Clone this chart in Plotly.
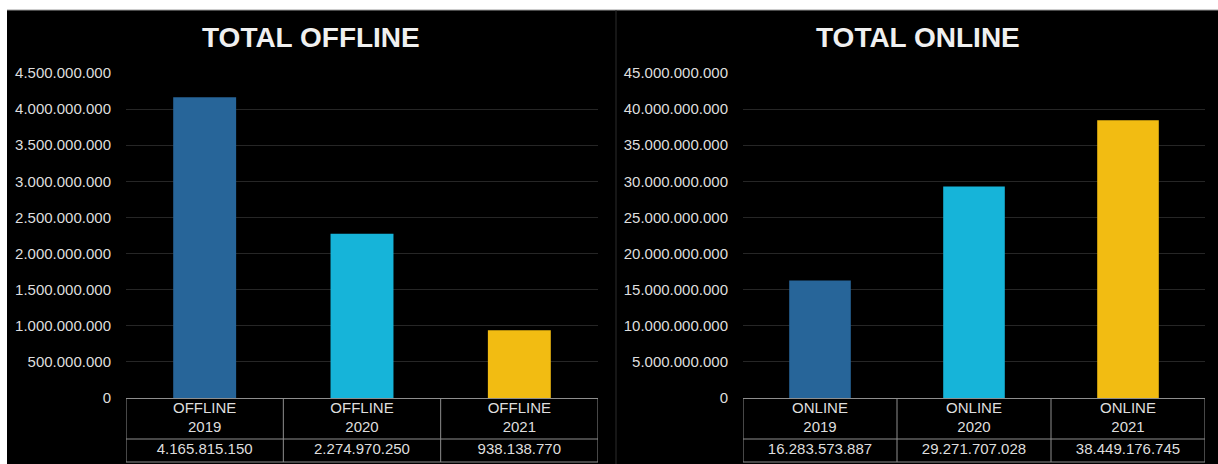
import plotly.graph_objects as go

W, H = 1218, 464

years = ["2019", "2020", "2021"]
offline_label = "OFFLINE"
online_label = "ONLINE"
offline_values = [4165815150, 2274970250, 938138770]
online_values = [16283573887, 29271707028, 38449176745]
offline_value_text = ["4.165.815.150", "2.274.970.250", "938.138.770"]
online_value_text = ["16.283.573.887", "29.271.707.028", "38.449.176.745"]
bar_colors = ["#276599", "#16b4d9", "#f2bc12"]
titles = ["TOTAL OFFLINE", "TOTAL ONLINE"]

FONT = "Liberation Sans, Arial, sans-serif"
TXT = "#dedede"
BORDER = "#8e8e8e"


def px(x):
    return x / W


def py(y):
    return 1 - y / H


left_dom = [px(126), px(598)]
right_dom = [px(743), px(1205)]
y_dom = [py(398), py(73)]
header_row_dom = [py(439), py(398)]
value_row_dom = [py(462), py(439)]

fig = go.Figure()

fig.add_trace(go.Bar(
    x=years, y=offline_values, marker=dict(color=bar_colors, line=dict(width=0)),
    width=0.4, xaxis="x", yaxis="y", hoverinfo="skip", showlegend=False,
))
fig.add_trace(go.Bar(
    x=years, y=online_values, marker=dict(color=bar_colors, line=dict(width=0)),
    width=0.4, xaxis="x2", yaxis="y2", hoverinfo="skip", showlegend=False,
))


def text_row(texts, xa, ya, ypos):
    return go.Scatter(
        x=years, y=[ypos] * len(years), text=texts, mode="text",
        textposition="middle center", textfont=dict(family=FONT, size=15, color=TXT),
        xaxis=xa, yaxis=ya, hoverinfo="skip", showlegend=False, cliponaxis=False,
    )


# table rows: header (label + year) and value
fig.add_trace(text_row([f"{offline_label}<br>{y}" for y in years], "x", "y5", 0.5))
fig.add_trace(text_row([f"{online_label}<br>{y}" for y in years], "x2", "y6", 0.5))
fig.add_trace(text_row(offline_value_text, "x", "y3", 0.5))
fig.add_trace(text_row(online_value_text, "x2", "y4", 0.5))

xaxis_common = dict(
    type="category", range=[-0.5, 2.5], showgrid=False, zeroline=False,
    showline=True, linecolor=BORDER, linewidth=1, automargin=False,
    showticklabels=False, ticks="", fixedrange=True,
)
yaxis_common = dict(
    showgrid=True, gridcolor="#262626", gridwidth=1, zeroline=False, showline=False,
    tickformat=",d", tickfont=dict(family=FONT, size=15, color=TXT), automargin=False,
    ticklabelstandoff=14, fixedrange=True,
)
row_axis = dict(range=[0, 1], visible=False, fixedrange=True,
                showgrid=False, zeroline=False, automargin=False)

shapes = [
    dict(type="rect", xref="paper", yref="paper", x0=px(7), x1=1, y0=0, y1=py(10),
         fillcolor="black", line=dict(width=0), layer="below"),
    dict(type="line", xref="paper", yref="paper", x0=px(7), x1=1, y0=py(10), y1=py(10),
         line=dict(color="#9a9a9a", width=1), layer="below"),
    dict(type="line", xref="paper", yref="paper", x0=px(616), x1=px(616), y0=0, y1=py(10),
         line=dict(color="#2c2c2c", width=1), layer="below"),
]
annotations = [
    dict(text=f"<b>{titles[0]}</b>", xref="paper", yref="paper", x=px(311), y=py(38),
         xanchor="center", yanchor="middle", showarrow=False,
         font=dict(family=FONT, size=28, color="#f0f0f0")),
    dict(text=f"<b>{titles[1]}</b>", xref="paper", yref="paper", x=px(918), y=py(38),
         xanchor="center", yanchor="middle", showarrow=False,
         font=dict(family=FONT, size=28, color="#f0f0f0")),
]

for xref in ("x", "x2"):
    n = len(years)
    for i in range(n + 1):
        shapes.append(dict(type="line", xref=xref, yref="paper",
                           x0=i - 0.5, x1=i - 0.5, y0=py(462), y1=py(398),
                           line=dict(color=BORDER, width=1)))
    for yy in (439, 462):
        shapes.append(dict(type="line", xref=xref, yref="paper",
                           x0=-0.5, x1=n - 0.5, y0=py(yy), y1=py(yy),
                           line=dict(color=BORDER, width=1)))

fig.update_layout(
    width=W, height=H,
    margin=dict(l=0, r=0, t=0, b=0, pad=0, autoexpand=False),
    paper_bgcolor="white",
    plot_bgcolor="rgba(0,0,0,0)",
    separators=",.",
    xaxis=dict(domain=left_dom, anchor="y", **xaxis_common),
    xaxis2=dict(domain=right_dom, anchor="y2", **xaxis_common),
    yaxis=dict(domain=y_dom, anchor="x", range=[0, 4.5e9], dtick=5e8, **yaxis_common),
    yaxis2=dict(domain=y_dom, anchor="x2", range=[0, 4.5e10], dtick=5e9, **yaxis_common),
    yaxis3=dict(anchor="x", domain=value_row_dom, **row_axis),
    yaxis4=dict(anchor="x2", domain=value_row_dom, **row_axis),
    yaxis5=dict(anchor="x", domain=header_row_dom, **row_axis),
    yaxis6=dict(anchor="x2", domain=header_row_dom, **row_axis),
    shapes=shapes,
    annotations=annotations,
)

fig.write_html(
    "out.html",
    config={"displayModeBar": False},
    post_script=(
        "document.documentElement.style.margin='0';"
        "document.body.style.margin='0';"
        "document.body.style.padding='0';"
        "document.documentElement.style.overflow='hidden';"
        "document.body.style.overflow='hidden';"
    ),
)
